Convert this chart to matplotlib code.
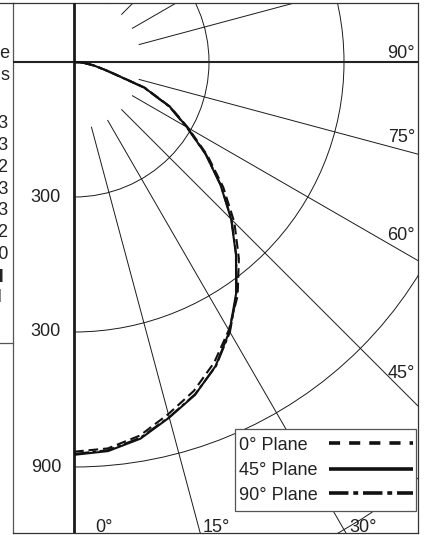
import numpy as np
import matplotlib
matplotlib.use("Agg")
import matplotlib.pyplot as plt
from matplotlib.patches import Arc, Rectangle
from matplotlib.lines import Line2D

plt.rcParams['font.family'] = ['Liberation Sans', 'DejaVu Sans']
plt.rcParams['lines.scale_dashes'] = False

# ---------------- data ----------------
angles_deg = [0, 5, 10, 15, 20, 25, 30, 35, 40, 45, 50, 55, 60, 65, 70, 75, 80, 85, 90]
cd_plane_0 = [866, 862, 843, 810, 778, 737, 688, 634, 570, 504, 433, 362, 293, 236, 168, 80, 46, 22, 0]
cd_plane_45 = [873, 868, 850, 818, 787, 745, 691, 628, 560, 494, 425, 357, 290, 235, 166, 78, 45, 22, 0]
cd_plane_90 = [871, 866, 848, 817, 786, 746, 693, 630, 561, 495, 426, 358, 289, 233, 165, 77, 45, 22, 0]
series_labels = ["0\u00b0 Plane", "45\u00b0 Plane", "90\u00b0 Plane"]

ring_values = [300, 600, 900, 1200]
ring_labels = ["300", "300", "900"]
ray_angles = [15, 30, 45, 60, 75, 105, 120, 135, 150, 165]
angle_labels = ["0\u00b0", "15\u00b0", "30\u00b0", "45\u00b0", "60\u00b0", "75\u00b0", "90\u00b0"]
table_labels = ["Zone", "Lumens"]
table_values = ["0-30 123", "30-40 83", "40-50 72", "50-60 63", "60-70 43", "70-80 22", "80-90 0"]
table_footer = ["Total", "Fixture l"]

# ---------------- layout ----------------
W, H = 425, 535
CX, CY = 74.0, 62.0      # polar centre in pixels
S = 0.45                 # pixels per candela
FL, FR, FT, FB = 13, 418, 3, 533   # frame edges in pixels


def dx(xp):
    return (xp - CX) / S


def dy(yp):
    return (CY - yp) / S


fig = plt.figure(figsize=(W / 100, H / 100), dpi=100)
ax = fig.add_axes([FL / W, (H - FB) / H, (FR - FL) / W, (FB - FT) / H])
ax.set_xlim(dx(FL), dx(FR))
ax.set_ylim(dy(FB), dy(FT))
ax.set_xticks([])
ax.set_yticks([])
for name, sp in ax.spines.items():
    sp.set_color('#333333')
    sp.set_linewidth(0.9)
ax.spines['left'].set_color('#555555')

grid_col = '#1a1a1a'
# rings
for r in ring_values:
    ax.add_patch(Arc((0, 0), 2 * r, 2 * r, theta1=-90, theta2=90,
                     color=grid_col, lw=0.7, zorder=2))
# rays
r_in, r_out = 150, 3000
for a in ray_angles:
    t = np.radians(a)
    ax.plot([r_in * np.sin(t), r_out * np.sin(t)],
            [-r_in * np.cos(t), -r_out * np.cos(t)],
            color=grid_col, lw=0.7, zorder=2)
# main axes lines
ax.axvline(0, color='#1a1a1a', lw=2.0, zorder=3)
ax.axhline(0, color='#222222', lw=1.5, zorder=3)

# curves
th = np.radians(angles_deg)
styles = [(0, (7, 3.5)), '-', (0, (11, 2.5, 2.5, 2.5))]
for vals, ls in zip([cd_plane_0, cd_plane_45, cd_plane_90], styles):
    v = np.asarray(vals, dtype=float)
    ax.plot(v * np.sin(th), -v * np.cos(th), color='#111111', lw=1.5,
            ls=ls, zorder=4, solid_capstyle='butt', dash_capstyle='butt',
            solid_joinstyle='round', dash_joinstyle='round')

fs = 13
tc = '#222222'
# ring labels
for r, lab in zip(ring_values, ring_labels):
    ax.text(dx(61), -r, lab, ha='right', va='center', fontsize=fs, color=tc)

# angle labels
bottom_pos = [104, 216, 363]
for lab, xp in zip(angle_labels[:3], bottom_pos):
    ax.text(dx(xp), dy(532), lab, ha='center', va='baseline', fontsize=fs, color=tc)
right_pos = [373, 236, 138, 53]
for lab, yp in zip(angle_labels[3:], right_pos):
    ax.text(dx(415), dy(yp), lab, ha='right', va='center', fontsize=fs, color=tc)

# legend (text left, line sample right)
ax.add_patch(Rectangle((dx(235), dy(511)), dx(416) - dx(235), dy(429) - dy(511),
                       facecolor='white', edgecolor='#555555', lw=0.9, zorder=10))
handle_styles = [(0, (8, 6.5)), '-', (0, (14, 3.5, 3.5, 3.5))]
row_y = [443, 468.5, 493]
for lab, ls, yp in zip(series_labels, handle_styles, row_y):
    ax.text(dx(239), dy(yp + 2), lab, ha='left', va='center', fontsize=fs, color=tc, zorder=11)
    ax.plot([dx(329), dx(413)], [dy(yp), dy(yp)], color='#111111', lw=2.6, ls=ls,
            solid_capstyle='butt', dash_capstyle='butt', zorder=11)

# cut-off table on the left
table_x = [10.0, 10.0]
for i, t in enumerate(table_labels):
    fig.text(table_x[i] / W, 1 - (53 + 22 * i) / H, t, ha='right', va='center', fontsize=fs, color=tc)
for i, t in enumerate(table_values):
    fig.text(8.0 / W, 1 - (124 + 21.7 * i) / H, t, ha='right', va='center', fontsize=fs, color=tc)
fig.text(4.5 / W, 1 - 277 / H, table_footer[0], ha='right', va='center', fontsize=fs,
         color=tc, fontweight='bold')
fig.text(2.5 / W, 1 - 297 / H, table_footer[1], ha='right', va='center', fontsize=fs,
         color='#888888')
fig.add_artist(Line2D([0, FL / W], [1 - 343 / H] * 2, color='#555555', lw=0.9))
fig.add_artist(Line2D([0, FL / W], [1 - FT / H] * 2, color='#333333', lw=0.9))

fig.savefig('out.png', dpi=100, facecolor='white')
